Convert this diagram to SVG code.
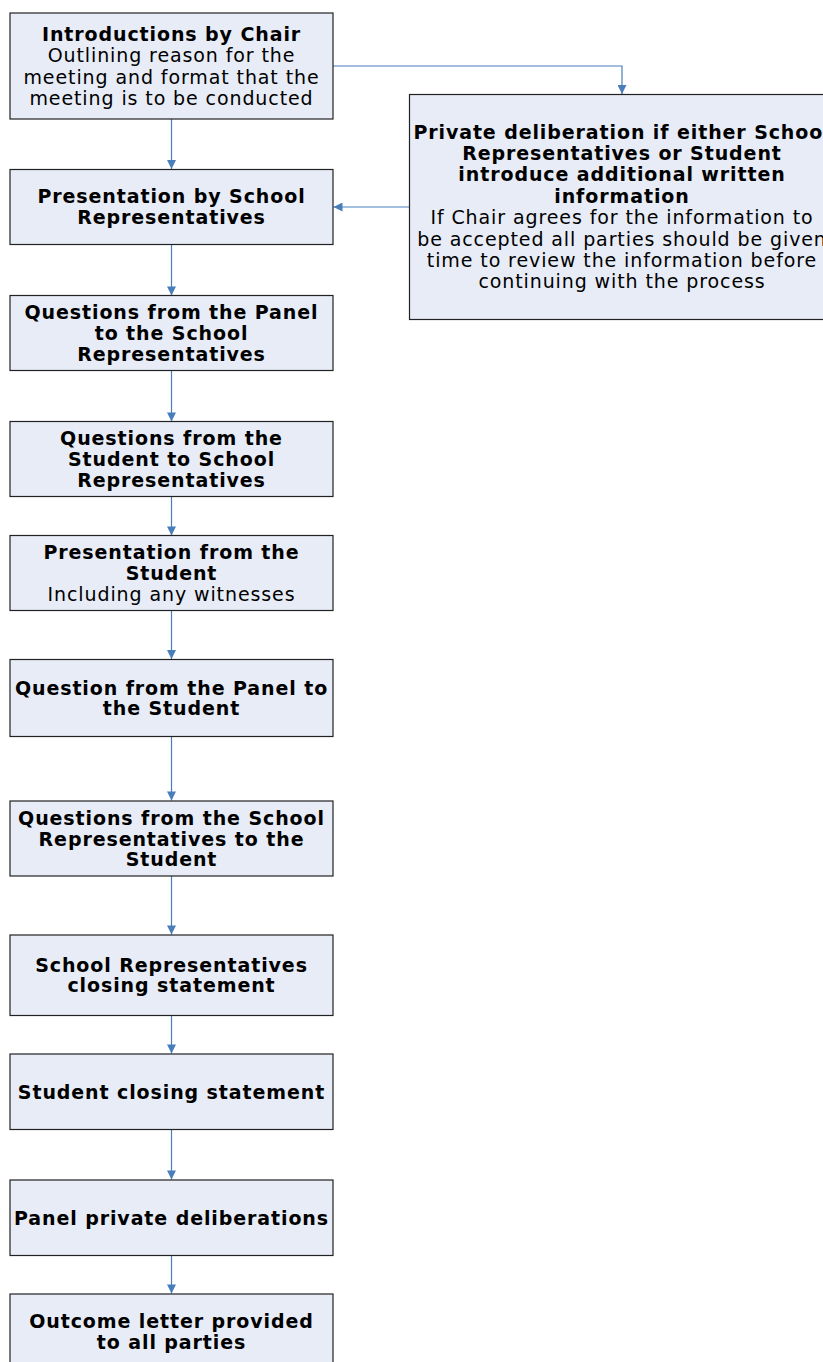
<svg xmlns="http://www.w3.org/2000/svg" width="823" height="1362" viewBox="0 0 823 1362">
<defs>
<style>
.box{fill:#e7ecf7;stroke:#222;stroke-width:1.2}
.t{font-family:"DejaVu Sans",Verdana,sans-serif;font-size:19px;letter-spacing:0.9px;fill:#000;text-anchor:middle}
.b{font-weight:bold}
.c{fill:none;stroke:#4a7ebb;stroke-width:1.2}
</style>
<marker id="ah" viewBox="0 0 10 10" refX="10" refY="5" markerWidth="10" markerHeight="9" markerUnits="userSpaceOnUse" orient="auto">
<path d="M0,0 L10,5 L0,10 Z" fill="#4a7ebb"/>
</marker>
</defs>
<rect width="823" height="1362" fill="#fff"/>
<g id="connectors">
<path class="c" d="M171.5,119 V169" marker-end="url(#ah)"/>
<path class="c" d="M333,66 H622 V94" marker-end="url(#ah)"/>
<path class="c" d="M409,207 H333.5" marker-end="url(#ah)"/>
<path class="c" d="M171.5,244 V295.5" marker-end="url(#ah)"/>
<path class="c" d="M171.5,370 V421.5" marker-end="url(#ah)"/>
<path class="c" d="M171.5,497 V535.5" marker-end="url(#ah)"/>
<path class="c" d="M171.5,611 V659" marker-end="url(#ah)"/>
<path class="c" d="M171.5,737 V800.5" marker-end="url(#ah)"/>
<path class="c" d="M171.5,876 V934.5" marker-end="url(#ah)"/>
<path class="c" d="M171.5,1016 V1053.5" marker-end="url(#ah)"/>
<path class="c" d="M171.5,1130 V1179.5" marker-end="url(#ah)"/>
<path class="c" d="M171.5,1256 V1293.5" marker-end="url(#ah)"/>
</g>
<g id="n1"><rect class="box" x="10" y="13" width="323" height="106"/>
<text class="t"><tspan class="b" x="171.5" y="41">Introductions by Chair</tspan><tspan x="171.5" y="62">Outlining reason for the</tspan><tspan x="171.5" y="84">meeting and format that the</tspan><tspan x="171.5" y="105">meeting is to be conducted</tspan></text></g>
<g id="n2"><rect class="box" x="10" y="169.5" width="323" height="75"/>
<text class="t b"><tspan x="171.5" y="203">Presentation by School</tspan><tspan x="171.5" y="224">Representatives</tspan></text></g>
<g id="nr"><rect class="box" x="409.5" y="94.5" width="430" height="225"/>
<text class="t"><tspan class="b" x="622" y="139">Private deliberation if either School</tspan><tspan class="b" x="622" y="160">Representatives or Student</tspan><tspan class="b" x="622" y="181">introduce additional written</tspan><tspan class="b" x="622" y="203">information</tspan><tspan x="622" y="224">If Chair agrees for the information to</tspan><tspan x="622" y="246">be accepted all parties should be given</tspan><tspan x="622" y="267">time to review the information before</tspan><tspan x="622" y="288">continuing with the process</tspan></text></g>
<g id="n3"><rect class="box" x="10" y="295.5" width="323" height="75"/>
<text class="t b"><tspan x="171.5" y="319">Questions from the Panel</tspan><tspan x="171.5" y="340">to the School</tspan><tspan x="171.5" y="361">Representatives</tspan></text></g>
<g id="n4"><rect class="box" x="10" y="421.5" width="323" height="75"/>
<text class="t b"><tspan x="171.5" y="445">Questions from the</tspan><tspan x="171.5" y="466">Student to School</tspan><tspan x="171.5" y="487">Representatives</tspan></text></g>
<g id="n5"><rect class="box" x="10" y="535.5" width="323" height="75"/>
<text class="t"><tspan class="b" x="171.5" y="559">Presentation from the</tspan><tspan class="b" x="171.5" y="580">Student</tspan><tspan x="171.5" y="601">Including any witnesses</tspan></text></g>
<g id="n6"><rect class="box" x="10" y="659.5" width="323" height="77"/>
<text class="t b"><tspan x="171.5" y="695">Question from the Panel to</tspan><tspan x="171.5" y="715">the Student</tspan></text></g>
<g id="n7"><rect class="box" x="10" y="801" width="323" height="75"/>
<text class="t b"><tspan x="171.5" y="825">Questions from the School</tspan><tspan x="171.5" y="846">Representatives to the</tspan><tspan x="171.5" y="866">Student</tspan></text></g>
<g id="n8"><rect class="box" x="10" y="935" width="323" height="80.5"/>
<text class="t b"><tspan x="171.5" y="972">School Representatives</tspan><tspan x="171.5" y="992">closing statement</tspan></text></g>
<g id="n9"><rect class="box" x="10" y="1054" width="323" height="75.5"/>
<text class="t b"><tspan x="171.5" y="1099">Student closing statement</tspan></text></g>
<g id="n10"><rect class="box" x="10" y="1180" width="323" height="75.5"/>
<text class="t b"><tspan x="171.5" y="1225">Panel private deliberations</tspan></text></g>
<g id="n11"><rect class="box" x="10" y="1294" width="323" height="80"/>
<text class="t b"><tspan x="171.5" y="1328">Outcome letter provided</tspan><tspan x="171.5" y="1349">to all parties</tspan></text></g>
</svg>
